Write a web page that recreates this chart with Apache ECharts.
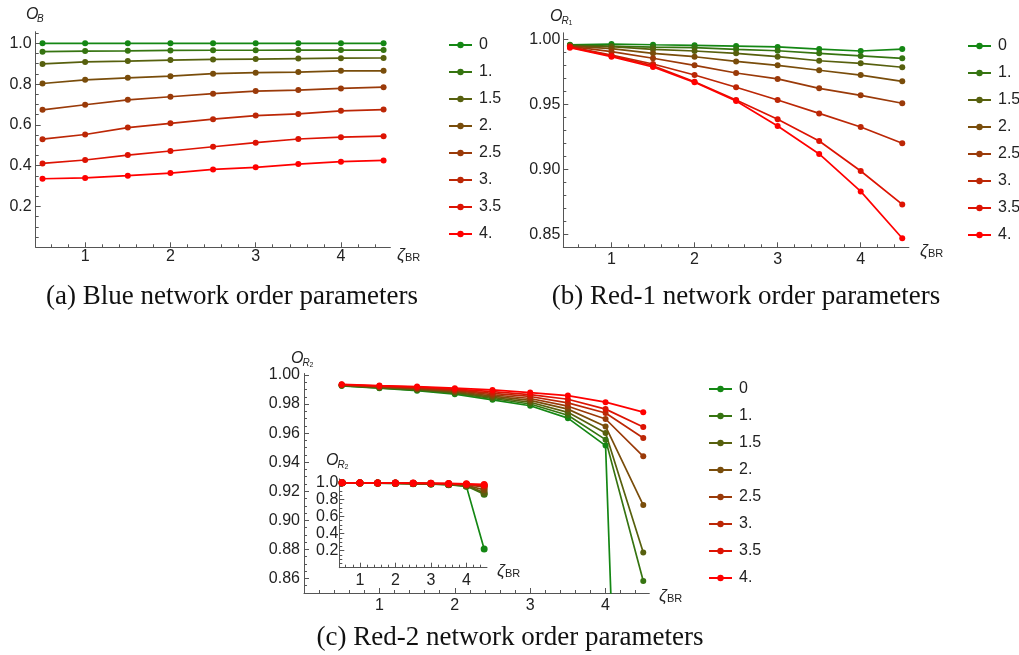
<!DOCTYPE html>
<html>
<head>
<meta charset="utf-8">
<script src="https://cdn.jsdelivr.net/npm/echarts@6/dist/echarts.min.js"></script>
<style>
html,body{margin:0;padding:0;background:#fff;}
#chart{width:1019px;height:655px;}
</style>
</head>
<body>
<div id="chart"></div>
<script>
// ---------- data ----------
const xs = [0.5, 1, 1.5, 2, 2.5, 3, 3.5, 4, 4.5];
const legendNames = ['0', '1.', '1.5', '2.', '2.5', '3.', '3.5', '4.'];

// (a) Blue network order parameters O_B
const blueOrder = [
  [1.000, 1.000, 1.000, 1.000, 1.000, 1.000, 1.000, 1.000, 1.000],
  [0.959, 0.962, 0.963, 0.965, 0.966, 0.966, 0.967, 0.967, 0.967],
  [0.899, 0.909, 0.913, 0.918, 0.921, 0.923, 0.925, 0.927, 0.928],
  [0.803, 0.821, 0.831, 0.839, 0.851, 0.856, 0.859, 0.865, 0.865],
  [0.674, 0.699, 0.723, 0.738, 0.753, 0.766, 0.771, 0.779, 0.785],
  [0.530, 0.553, 0.587, 0.608, 0.628, 0.646, 0.654, 0.669, 0.675],
  [0.411, 0.428, 0.452, 0.472, 0.493, 0.513, 0.531, 0.540, 0.545],
  [0.336, 0.340, 0.351, 0.364, 0.382, 0.392, 0.408, 0.420, 0.426]
];

// (b) Red-1 network order parameters O_R1
const red1Order = [
  [0.9958, 0.9964, 0.9958, 0.9954, 0.9948, 0.9941, 0.9925, 0.9910, 0.9925],
  [0.9955, 0.9948, 0.9940, 0.9936, 0.9923, 0.9912, 0.9892, 0.9872, 0.9854],
  [0.9950, 0.9943, 0.9923, 0.9910, 0.9892, 0.9866, 0.9835, 0.9815, 0.9785],
  [0.9948, 0.9928, 0.9892, 0.9866, 0.9830, 0.9800, 0.9762, 0.9725, 0.9677],
  [0.9945, 0.9905, 0.9854, 0.9800, 0.9741, 0.9695, 0.9623, 0.9569, 0.9508],
  [0.9942, 0.9879, 0.9810, 0.9725, 0.9631, 0.9533, 0.9430, 0.9325, 0.9200],
  [0.9940, 0.9872, 0.9797, 0.9674, 0.9533, 0.9385, 0.9218, 0.8987, 0.8730],
  [0.9935, 0.9866, 0.9787, 0.9669, 0.9525, 0.9333, 0.9118, 0.8830, 0.8470]
];

// (c) Red-2 network order parameters O_R2
const red2Order = [
  [0.9925, 0.9909, 0.9892, 0.9868, 0.9829, 0.9788, 0.9703, 0.9514, 0.2200],
  [0.9926, 0.9911, 0.9896, 0.9874, 0.9838, 0.9800, 0.9723, 0.9555, 0.8582],
  [0.9928, 0.9914, 0.9900, 0.9880, 0.9846, 0.9812, 0.9743, 0.9600, 0.8779],
  [0.9929, 0.9916, 0.9904, 0.9886, 0.9855, 0.9825, 0.9765, 0.9646, 0.9105],
  [0.9931, 0.9919, 0.9908, 0.9892, 0.9864, 0.9838, 0.9785, 0.9697, 0.9440],
  [0.9932, 0.9921, 0.9912, 0.9897, 0.9873, 0.9852, 0.9808, 0.9738, 0.9566],
  [0.9934, 0.9924, 0.9916, 0.9903, 0.9885, 0.9865, 0.9833, 0.9765, 0.9642],
  [0.9936, 0.9927, 0.9920, 0.9909, 0.9897, 0.9879, 0.9858, 0.9813, 0.9744]
];

// tick labels
const xTickLabels = [1, 2, 3, 4];
const yTicksA = [0.2, 0.4, 0.6, 0.8, 1.0];
const yTicksB = [0.85, 0.90, 0.95, 1.00];
const yTicksC = [0.86, 0.88, 0.90, 0.92, 0.94, 0.96, 0.98, 1.00];
const yTicksInset = [0.2, 0.4, 0.6, 0.8, 1.0];

// ---------- style ----------
const colors = ['#148714', '#367411', '#57600e', '#794d0b', '#9a3a09', '#bc2706', '#dd1303', '#ff0000'];
const axisColor = '#555555';
const textColor = '#222222';
const sans = 'Liberation Sans, Arial, sans-serif';

function minorList(min, max, step, majors) {
  const out = [];
  const start = Math.ceil(min / step - 1e-9);
  for (let k = start; k * step <= max + 1e-9; k++) {
    const v = +(k * step).toFixed(6);
    if (!majors.some(m => Math.abs(m - v) < 1e-9)) out.push(v);
  }
  return out;
}

const grids = [
  { left: 35.7, top: 31.7, width: 354.7, height: 215.6 },   // a
  { left: 563.3, top: 32.8, width: 345.6, height: 214.5 },  // b
  { left: 304, top: 373.5, width: 345.3, height: 219.5 },   // c
  { left: 339.3, top: 478.8, width: 147.7, height: 88.9 }   // inset
];

const axisDefs = [
  { xmin: 0.42, xmax: 4.58, ymin: 0, ymax: 1.057, yMaj: yTicksA, yStep: 0.05, yDec: 1, xMargin: 1, yMargin: 4 },
  { xmin: 0.42, xmax: 4.58, ymin: 0.84, ymax: 1.005, yMaj: yTicksB, yStep: 0.01, yDec: 2, xMargin: 4, yMargin: 3 },
  { xmin: 0, xmax: 4.58, ymin: 0.85, ymax: 1.001, yMaj: yTicksC, yStep: 0.005, yDec: 2, xMargin: 5, yMargin: 4 },
  { xmin: 0.42, xmax: 4.58, ymin: 0, ymax: 1.04, yMaj: yTicksInset, yStep: 0.05, yDec: 1, xMargin: 5, yMargin: 1 }
];

const xAxes = [], yAxes = [];
axisDefs.forEach((d, gi) => {
  const xMin = minorList(d.xmin, d.xmax, 0.2, xTickLabels);
  const yMin = minorList(d.ymin, d.ymax, d.yStep, d.yMaj.concat([0]));
  xAxes.push({
    gridIndex: gi, type: 'value', position: 'bottom', min: d.xmin, max: d.xmax,
    axisLine: { onZero: false, lineStyle: { color: axisColor, width: 1 } },
    splitLine: { show: false },
    axisTick: { inside: true, length: 5, customValues: xTickLabels, lineStyle: { color: axisColor } },
    axisLabel: { customValues: xTickLabels, formatter: v => String(v), margin: d.xMargin,
      color: textColor, fontSize: 16, fontFamily: sans }
  });
  xAxes.push({
    gridIndex: gi, type: 'value', position: 'bottom', min: d.xmin, max: d.xmax,
    axisLine: { show: false, onZero: false }, splitLine: { show: false }, axisLabel: { show: false },
    axisTick: { show: true, inside: true, length: 3, customValues: xMin, lineStyle: { color: axisColor } }
  });
  yAxes.push({
    gridIndex: gi, type: 'value', position: 'left', min: d.ymin, max: d.ymax,
    axisLine: { show: true, onZero: false, lineStyle: { color: axisColor, width: 1 } },
    splitLine: { show: false },
    axisTick: { show: true, inside: true, length: 5, customValues: d.yMaj, lineStyle: { color: axisColor } },
    axisLabel: { customValues: d.yMaj, formatter: v => v.toFixed(d.yDec), margin: d.yMargin,
      color: textColor, fontSize: 16, fontFamily: sans }
  });
  yAxes.push({
    gridIndex: gi, type: 'value', position: 'left', min: d.ymin, max: d.ymax,
    axisLine: { show: false, onZero: false }, splitLine: { show: false }, axisLabel: { show: false },
    axisTick: { show: true, inside: true, length: 3, customValues: yMin, lineStyle: { color: axisColor } }
  });
});

const panels = [
  { data: blueOrder, gi: 0, size: 6 },
  { data: red1Order, gi: 1, size: 6 },
  { data: red2Order, gi: 2, size: 6 },
  { data: red2Order, gi: 3, size: 7 }
];
const series = [];
panels.forEach(p => {
  p.data.forEach((vals, i) => {
    series.push({
      name: legendNames[i], type: 'line',
      xAxisIndex: p.gi * 2, yAxisIndex: p.gi * 2,
      data: xs.map((x, k) => [x, vals[k]]),
      symbol: 'circle', symbolSize: p.size, showSymbol: true,
      lineStyle: { color: colors[i], width: 1.7 },
      itemStyle: { color: colors[i] },
      clip: true, animation: false, silent: true
    });
  });
});

function legendAt(left, top) {
  return {
    orient: 'vertical', left: left, top: top, selectedMode: false,
    data: legendNames, itemWidth: 23, itemHeight: 8, itemGap: 11,
    textStyle: { color: textColor, fontSize: 16, fontFamily: sans, lineHeight: 16, padding: [0, 0, 0, 2] }
  };
}

function t(x, y, text, size, italic, extra) {
  return Object.assign({
    type: 'text', x: x, y: y,
    style: { text: text, fontSize: size, fontStyle: italic ? 'italic' : 'normal', fontFamily: sans,
      fill: textColor, textVerticalAlign: 'middle', textAlign: 'left' }
  }, extra || {});
}
const serif = 'Liberation Serif, DejaVu Serif, serif';
function cap(x, y, text) {
  return { type: 'text', x: x, y: y,
    style: { text: text, fontSize: 27, fontFamily: serif, fill: '#111', textAlign: 'center', textVerticalAlign: 'middle' } };
}

const graphics = [
  // panel a axis titles
  t(26, 15, 'O', 16, true), t(37, 19, 'B', 10, true),
  t(397, 255, 'ζ', 17, true), t(405, 258, 'BR', 11, false),
  // panel b
  t(550, 17, 'O', 16, true), t(561.5, 21, 'R', 10, true), t(568.5, 23, '1', 7, false),
  t(920, 251, 'ζ', 17, true), t(928, 254, 'BR', 11, false),
  // panel c
  t(291, 359, 'O', 16, true), t(302.5, 363, 'R', 10, true), t(309.5, 365, '2', 7, false),
  t(659, 596, 'ζ', 17, true), t(667, 599, 'BR', 11, false),
  // inset
  t(326, 461, 'O', 16, true), t(337.5, 465, 'R', 10, true), t(344.5, 467, '2', 7, false),
  t(497, 571, 'ζ', 17, true), t(505, 574, 'BR', 11, false),
  // captions
  cap(232, 297, '(a) Blue network order parameters'),
  cap(746, 297, '(b) Red-1 network order parameters'),
  cap(510, 638, '(c) Red-2 network order parameters')
];

const chart = echarts.init(document.getElementById('chart'), null, { renderer: 'canvas' });
chart.setOption({
  backgroundColor: '#ffffff',
  animation: false,
  grid: grids,
  xAxis: xAxes,
  yAxis: yAxes,
  legend: [legendAt(443, 32), legendAt(962, 33), legendAt(703, 376)],
  series: series,
  graphic: graphics
});
</script>
</body>
</html>
